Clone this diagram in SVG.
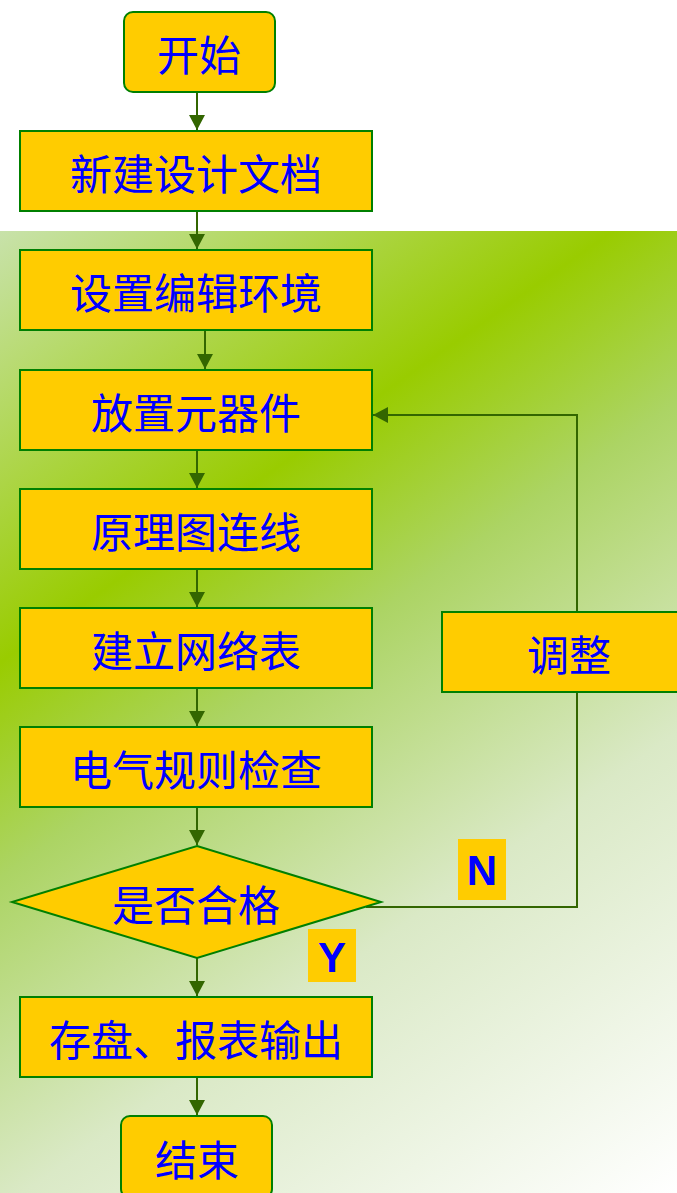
<svg xmlns="http://www.w3.org/2000/svg" width="677" height="1193" viewBox="0 0 677 1193">
<defs>
<linearGradient id="bg" gradientUnits="userSpaceOnUse" x1="0" y1="231" x2="677" y2="1193">
<stop offset="0" stop-color="#c8e2aa"/>
<stop offset="0.3" stop-color="#99cc00"/>
<stop offset="0.45" stop-color="#acd464"/>
<stop offset="0.68" stop-color="#dae9c6"/>
<stop offset="1" stop-color="#ffffff"/>
</linearGradient>
<marker id="ah" markerUnits="userSpaceOnUse" markerWidth="16" markerHeight="16" refX="15" refY="8" orient="auto">
<path d="M0,0 L15,8 L0,16 Z" fill="#336600"/>
</marker>
<style>
.box{fill:#ffcc00;stroke:#008000;stroke-width:2}
.t{font-family:"Noto Sans CJK SC","Liberation Sans",sans-serif;font-size:42px;fill:#0000ff;text-anchor:middle}
.lbl{font-family:"Liberation Sans",Arial,sans-serif;font-weight:bold;font-size:42px;fill:#0000ff;text-anchor:middle}
.c{fill:none;stroke:#336600;stroke-width:2}
</style>
</defs>
<rect x="0" y="0" width="677" height="1193" fill="#ffffff"/>
<rect x="0" y="231" width="677" height="962" fill="url(#bg)"/>
<g id="connectors">
<line class="c" x1="197" y1="92" x2="197" y2="130" marker-end="url(#ah)"/>
<line class="c" x1="197" y1="211" x2="197" y2="249" marker-end="url(#ah)"/>
<line class="c" x1="205" y1="330" x2="205" y2="369" marker-end="url(#ah)"/>
<line class="c" x1="197" y1="450" x2="197" y2="488" marker-end="url(#ah)"/>
<line class="c" x1="197" y1="569" x2="197" y2="607" marker-end="url(#ah)"/>
<line class="c" x1="197" y1="688" x2="197" y2="726" marker-end="url(#ah)"/>
<line class="c" x1="197" y1="807" x2="197" y2="845" marker-end="url(#ah)"/>
<line class="c" x1="197" y1="958" x2="197" y2="996" marker-end="url(#ah)"/>
<line class="c" x1="197" y1="1077" x2="197" y2="1115" marker-end="url(#ah)"/>
<polyline class="c" points="577,612 577,415 373,415" marker-end="url(#ah)"/>
<polyline class="c" points="366,907 577,907 577,692"/>
</g>
<g id="start"><rect class="box" x="124" y="12" width="151" height="80" rx="9"/><text class="t" x="199" y="71">开始</text></g>
<g id="new-doc"><rect class="box" x="20" y="131" width="352" height="80"/><text class="t" x="196" y="190">新建设计文档</text></g>
<g id="env"><rect class="box" x="20" y="250" width="352" height="80"/><text class="t" x="196" y="309">设置编辑环境</text></g>
<g id="place"><rect class="box" x="20" y="370" width="352" height="80"/><text class="t" x="196" y="429">放置元器件</text></g>
<g id="wire"><rect class="box" x="20" y="489" width="352" height="80"/><text class="t" x="196" y="548">原理图连线</text></g>
<g id="netlist"><rect class="box" x="20" y="608" width="352" height="80"/><text class="t" x="196" y="667">建立网络表</text></g>
<g id="erc"><rect class="box" x="20" y="727" width="352" height="80"/><text class="t" x="196" y="786">电气规则检查</text></g>
<g id="decision"><polygon class="box" points="197,846 381,902 197,958 12,902"/><text class="t" x="196" y="921">是否合格</text></g>
<g id="save"><rect class="box" x="20" y="997" width="352" height="80"/><text class="t" x="196" y="1056">存盘、报表输出</text></g>
<g id="end"><rect class="box" x="121" y="1116" width="151" height="82" rx="9"/><text class="t" x="197" y="1176">结束</text></g>
<g id="adjust"><rect class="box" x="442" y="612" width="240" height="80"/><text class="t" x="569" y="671">调整</text></g>
<g id="label-n"><rect x="458" y="839" width="48" height="61" fill="#ffcc00"/><text class="lbl" x="482" y="885">N</text></g>
<g id="label-y"><rect x="308" y="929" width="48" height="53" fill="#ffcc00"/><text class="lbl" x="332" y="972">Y</text></g>
</svg>
